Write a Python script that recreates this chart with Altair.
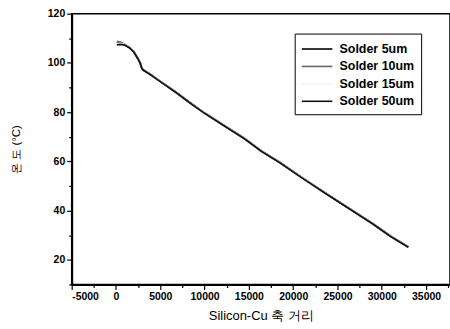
import altair as alt
import pandas as pd

series_names = ["Solder 5um", "Solder 10um", "Solder 15um", "Solder 50um"]
x_vals = [100, 500, 1000, 1500, 2000, 2500, 2750, 2920, 3100, 3900, 4800, 6850, 8200,
          10000, 12500, 14500, 16400, 18500, 20900, 23700, 26150, 28950, 31000, 33000]
y_5um = [108.5, 108.3, 107.4, 106.3, 104.6, 101.6, 99.8, 97.8, 97.1, 95.3, 93.0, 87.9, 84.2,
         79.6, 73.9, 69.3, 64.2, 59.5, 53.6, 47.0, 41.3, 34.8, 29.6, 25.2]
y_10um = [108.7, 108.4, 107.5, 106.4, 104.7, 101.7, 99.9, 97.9, 97.2, 95.4, 93.1, 88.0, 84.3,
          79.7, 74.0, 69.4, 64.3, 59.6, 53.7, 47.1, 41.4, 34.9, 29.7, 25.3]
y_15um = [107.8, 107.9, 107.4, 106.3, 104.6, 101.6, 99.8, 97.8, 97.1, 95.3, 93.0, 87.9, 84.2,
          79.6, 73.9, 69.3, 64.2, 59.5, 53.6, 47.0, 41.3, 34.8, 29.6, 25.2]
y_50um = [107.3, 107.5, 107.2, 106.2, 104.5, 101.5, 99.7, 97.7, 97.0, 95.2, 92.9, 87.8, 84.1,
          79.5, 73.8, 69.2, 64.1, 59.4, 53.5, 46.9, 41.2, 34.7, 29.5, 25.1]
series_colors = ["#000000", "#666666", "#f4f4f4", "#111111"]

x_major = [-5000, 0, 5000, 10000, 15000, 20000, 25000, 30000, 35000]
x_minor = [-2500, 2500, 7500, 12500, 17500, 22500, 27500, 32500, 37500]
y_major = [20, 40, 60, 80, 100, 120]
y_minor = [10, 30, 50, 70, 90, 110]

rows = []
for name, ys in zip(series_names, [y_5um, y_10um, y_15um, y_50um]):
    for xv, yv in zip(x_vals, ys):
        rows.append({"x": xv, "y": yv, "series": name})
df = pd.DataFrame(rows)

FONT = "Liberation Sans"
xscale = alt.Scale(domain=[-5000, 37700], nice=False, zero=False)
yscale = alt.Scale(domain=[10, 120], nice=False, zero=False)

x_label_expr = "datum.value < 0 ? '-' + format(-datum.value, 'd') : format(datum.value, 'd')"

lines = alt.Chart(df).mark_line(strokeWidth=1.8).encode(
    x=alt.X("x:Q", scale=xscale,
            axis=alt.Axis(values=x_major, labelExpr=x_label_expr, title="Silicon-Cu 축 거리",
                          titleFontSize=13, titleFontWeight="normal", titlePadding=8,
                          titleColor="black",
                          labelFontSize=10.5, labelFontWeight="bold", tickSize=5,
                          domainWidth=2, tickWidth=1.2, grid=False)),
    y=alt.Y("y:Q", scale=yscale,
            axis=alt.Axis(values=y_major, title="온 도 (°C)",
                          titleFontSize=11.5, titleFontWeight="normal", titlePadding=26,
                          titleColor="black",
                          labelFontSize=10.5, labelFontWeight="bold", tickSize=5,
                          domainWidth=2, tickWidth=1.2, grid=False)),
    color=alt.Color("series:N", sort=series_names,
                    scale=alt.Scale(domain=series_names, range=series_colors),
                    legend=alt.Legend(title=None, orient="none", legendX=224, legendY=20,
                                      symbolType="M-1.8,0H1.8", symbolSize=289,
                                      symbolOffset=7, symbolStrokeWidth=1.6,
                                      labelFontSize=12.5, labelFontWeight="bold",
                                      labelColor="black", strokeColor="black",
                                      padding=6, rowPadding=1.5, labelOffset=13)),
)

minor = alt.Chart(df).mark_line(opacity=0).encode(
    x=alt.X("x:Q", scale=xscale,
            axis=alt.Axis(values=x_minor, labels=False, domain=False, tickSize=3,
                          title=None, grid=False, orient="bottom", tickWidth=1.2)),
    y=alt.Y("y:Q", scale=yscale,
            axis=alt.Axis(values=y_minor, labels=False, domain=False, tickSize=3,
                          title=None, grid=False, orient="left", tickWidth=1.2)),
    detail="series:N",
)

chart = alt.layer(lines, minor).resolve_axis(x="independent", y="independent").properties(
    width=380, height=272,
    autosize=alt.AutoSizeParams(type="none"),
    padding={"left": 72, "top": 13, "right": 0, "bottom": 44},
).configure_view(stroke="black", strokeWidth=1.5).configure_axis(
    labelFont=FONT, titleFont=FONT, labelColor="black", titleColor="black",
    domainColor="black", tickColor="black",
).configure_legend(labelFont=FONT)

chart.save("out.html", embed_options={"renderer": "svg", "actions": False})
